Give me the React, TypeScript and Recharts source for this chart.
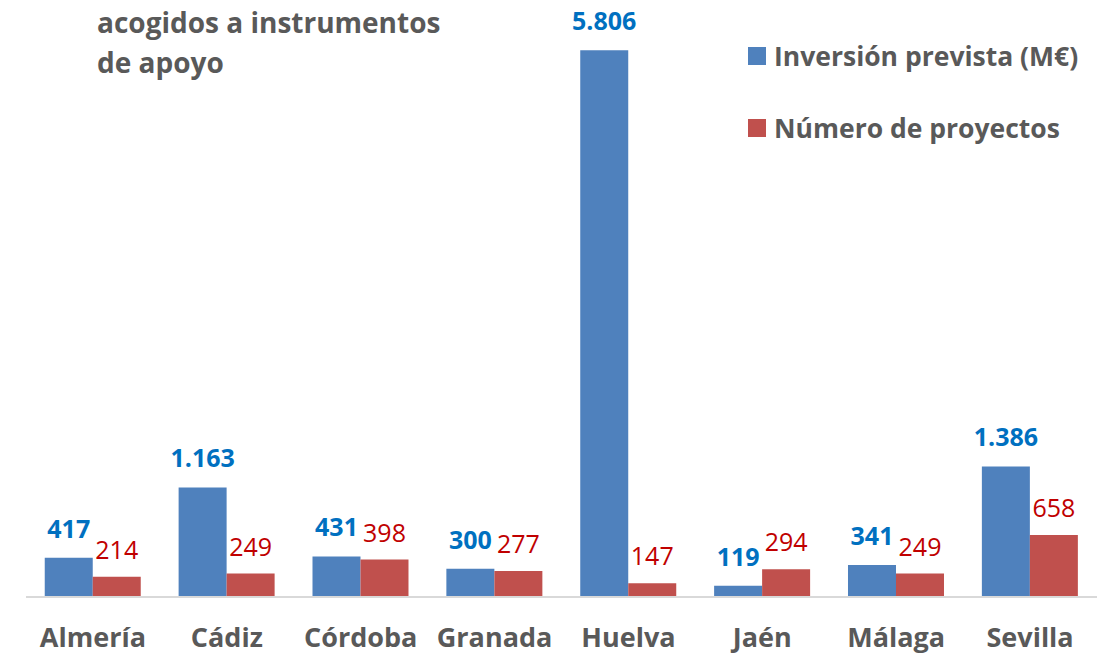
import { BarChart, Bar, XAxis, YAxis, LabelList } from 'recharts'

const provincias = ['Almería', 'Cádiz', 'Córdoba', 'Granada', 'Huelva', 'Jaén', 'Málaga', 'Sevilla']
const inversion = [417, 1163, 431, 300, 5806, 119, 341, 1386]
const proyectos = [214, 249, 398, 277, 147, 294, 249, 658]

const seriesNames = ['Inversión prevista (M€)', 'Número de proyectos']
const titleLines = ['acogidos a instrumentos', 'de apoyo']

const BLUE = '#4F81BD'
const RED = '#C0504D'
const GREY = '#595959'
const FONT = '"Open Sans", Lato, sans-serif'

const data = provincias.map((p, i) => ({ provincia: p, inversion: inversion[i], proyectos: proyectos[i] }))

// miles con punto, como en el original (1.163)
const fmt = (v: any) => String(v).replace(/\B(?=(\d{3})+(?!\d))/g, '.')

function LegendBox() {
  const items = [
    { name: seriesNames[0], color: BLUE },
    { name: seriesNames[1], color: RED },
  ]
  return (
    <div style={{ position: 'absolute', left: 748, top: 39, fontFamily: FONT, fontWeight: 700, fontSize: 26.5, color: GREY }}>
      {items.map((it, i) => (
        <div key={it.name} style={{ display: 'flex', alignItems: 'center', height: 34, marginBottom: i === 0 ? 38 : 0 }}>
          <span style={{ width: 18, height: 18, background: it.color, marginRight: 8, display: 'inline-block' }} />
          <span>{it.name}</span>
        </div>
      ))}
    </div>
  )
}

export default function App() {
  return (
    <div style={{ position: 'absolute', left: 0, top: 0, width: 1116, height: 655, background: '#fff' }}>
      <div style={{ position: 'absolute', left: 97, top: 2, fontFamily: FONT, fontWeight: 700, fontSize: 28, lineHeight: '40px', color: GREY, zIndex: 2 }}>
        {titleLines.map((t) => <div key={t}>{t}</div>)}
      </div>
      <LegendBox />
      <BarChart
        width={1116}
        height={655}
        data={data}
        margin={{ top: 32, right: 19, left: 26, bottom: 0 }}
        barCategoryGap="14%"
        barGap={0}
      >
        <XAxis
          dataKey="provincia"
          height={58}
          tickLine={false}
          tickSize={0}
          tickMargin={31}
          axisLine={{ stroke: '#D9D9D9', strokeWidth: 2 }}
          tick={{ fill: GREY, fontFamily: FONT, fontWeight: 700, fontSize: 27 }}
          interval={0}
        />
        <YAxis hide domain={[0, 6000]} width={0} />
        <Bar dataKey="inversion" name={seriesNames[0]} fill={BLUE} isAnimationActive={false}>
          <LabelList
            dataKey="inversion"
            position="top"
            offset={20}
            formatter={fmt}
            style={{ fill: '#0070C0', fontFamily: FONT, fontWeight: 700, fontSize: 25 }}
          />
        </Bar>
        <Bar dataKey="proyectos" name={seriesNames[1]} fill={RED} isAnimationActive={false}>
          <LabelList
            dataKey="proyectos"
            position="top"
            offset={18}
            formatter={fmt}
            style={{ fill: '#C00000', fontFamily: FONT, fontWeight: 400, fontSize: 25 }}
          />
        </Bar>
      </BarChart>
    </div>
  )
}
